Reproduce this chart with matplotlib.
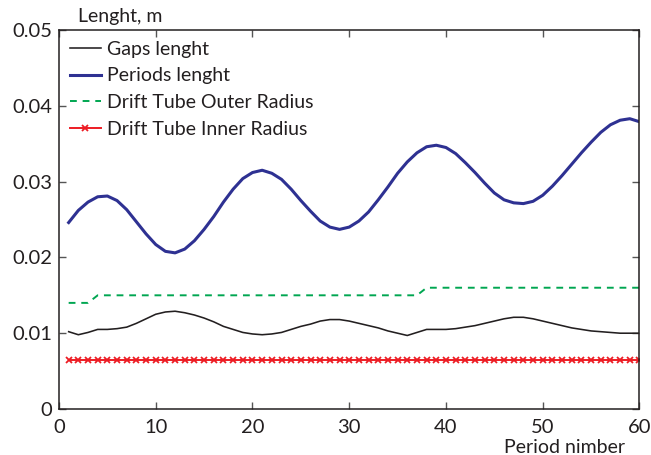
import numpy as np
import matplotlib.pyplot as plt

plt.rcParams['font.family'] = ['Lato', 'DejaVu Sans']

periods = np.arange(1, 61)

gaps_length = [
    0.0102, 0.0098, 0.0101, 0.0105, 0.0105, 0.0106, 0.0108, 0.0113, 0.0119, 0.0125,
    0.0128, 0.0129, 0.0127, 0.0124, 0.0120, 0.0115, 0.0109, 0.0105, 0.0101, 0.0099,
    0.0098, 0.0099, 0.0101, 0.0105, 0.0109, 0.0112, 0.0116, 0.0118, 0.0118, 0.0116,
    0.0113, 0.0110, 0.0107, 0.0103, 0.0100, 0.0097, 0.0101, 0.0105, 0.0105, 0.0105,
    0.0106, 0.0108, 0.0110, 0.0113, 0.0116, 0.0119, 0.0121, 0.0121, 0.0119, 0.0116,
    0.0113, 0.0110, 0.0107, 0.0105, 0.0103, 0.0102, 0.0101, 0.0100, 0.0100, 0.0100,
]

periods_length = [
    0.0246, 0.0262, 0.0273, 0.0280, 0.0281, 0.0275, 0.0263, 0.0247, 0.0231, 0.0217,
    0.0208, 0.0206, 0.0211, 0.0222, 0.0237, 0.0254, 0.0273, 0.0290, 0.0304, 0.0312,
    0.0315, 0.0311, 0.0303, 0.0290, 0.0275, 0.0261, 0.0248, 0.0240, 0.0237, 0.0240,
    0.0248, 0.0260, 0.0276, 0.0293, 0.0311, 0.0326, 0.0338, 0.0346, 0.0348, 0.0345,
    0.0337, 0.0325, 0.0312, 0.0298, 0.0285, 0.0276, 0.0272, 0.0271, 0.0274, 0.0282,
    0.0294, 0.0308, 0.0323, 0.0338, 0.0352, 0.0365, 0.0375, 0.0381, 0.0383, 0.0379,
]

outer_radius = [0.014] * 3 + [0.015] * 34 + [0.016] * 23
inner_radius = [0.0065] * 60

fig = plt.figure(figsize=(6.51, 4.55), dpi=100)
ax = fig.add_axes([0.0906, 0.1011, 0.8917, 0.8329])

ax.plot(periods, gaps_length, color='#231f20', lw=1.15, label='Gaps lenght')
ax.plot(periods, periods_length, color='#2e3192', lw=2.2, label='Periods lenght')
ax.plot(periods, outer_radius, color='#00a651', lw=1.4, ls=(0, (3.5, 3)),
        label='Drift Tube Outer Radius')
ax.plot(periods, inner_radius, color='#ed1c24', lw=1.4, marker='x', ms=4,
        mew=1.3, label='Drift Tube Inner Radius')

ax.set_xlim(0, 60)
ax.set_ylim(0, 0.05)
ax.set_xticks(np.arange(0, 61, 10))
ax.set_yticks(np.arange(0, 0.051, 0.01))
ax.set_yticklabels(['0', '0.01', '0.02', '0.03', '0.04', '0.05'])
ax.tick_params(direction='in', top=True, right=True, length=5, width=1,
               color='#555555', labelsize=14.5, labelcolor='#231f20', pad=5)
ax.tick_params(axis='x', pad=7)
for s in ax.spines.values():
    s.set_color('#231f20')
    s.set_linewidth(1.1)

ax.text(0.032, 1.012, 'Lenght, m', transform=ax.transAxes, fontsize=14,
        color='#231f20', ha='left', va='bottom')
ax.text(0.975, -0.08, 'Period nimber', transform=ax.transAxes, fontsize=14,
        color='#231f20', ha='right', va='top')

ax.legend(loc='upper left', frameon=False, fontsize=14, handlelength=1.6,
          handletextpad=0.3, labelspacing=0.5, borderaxespad=0.15,
          borderpad=0.4, labelcolor='#231f20')

fig.savefig('out.png', dpi=100)
